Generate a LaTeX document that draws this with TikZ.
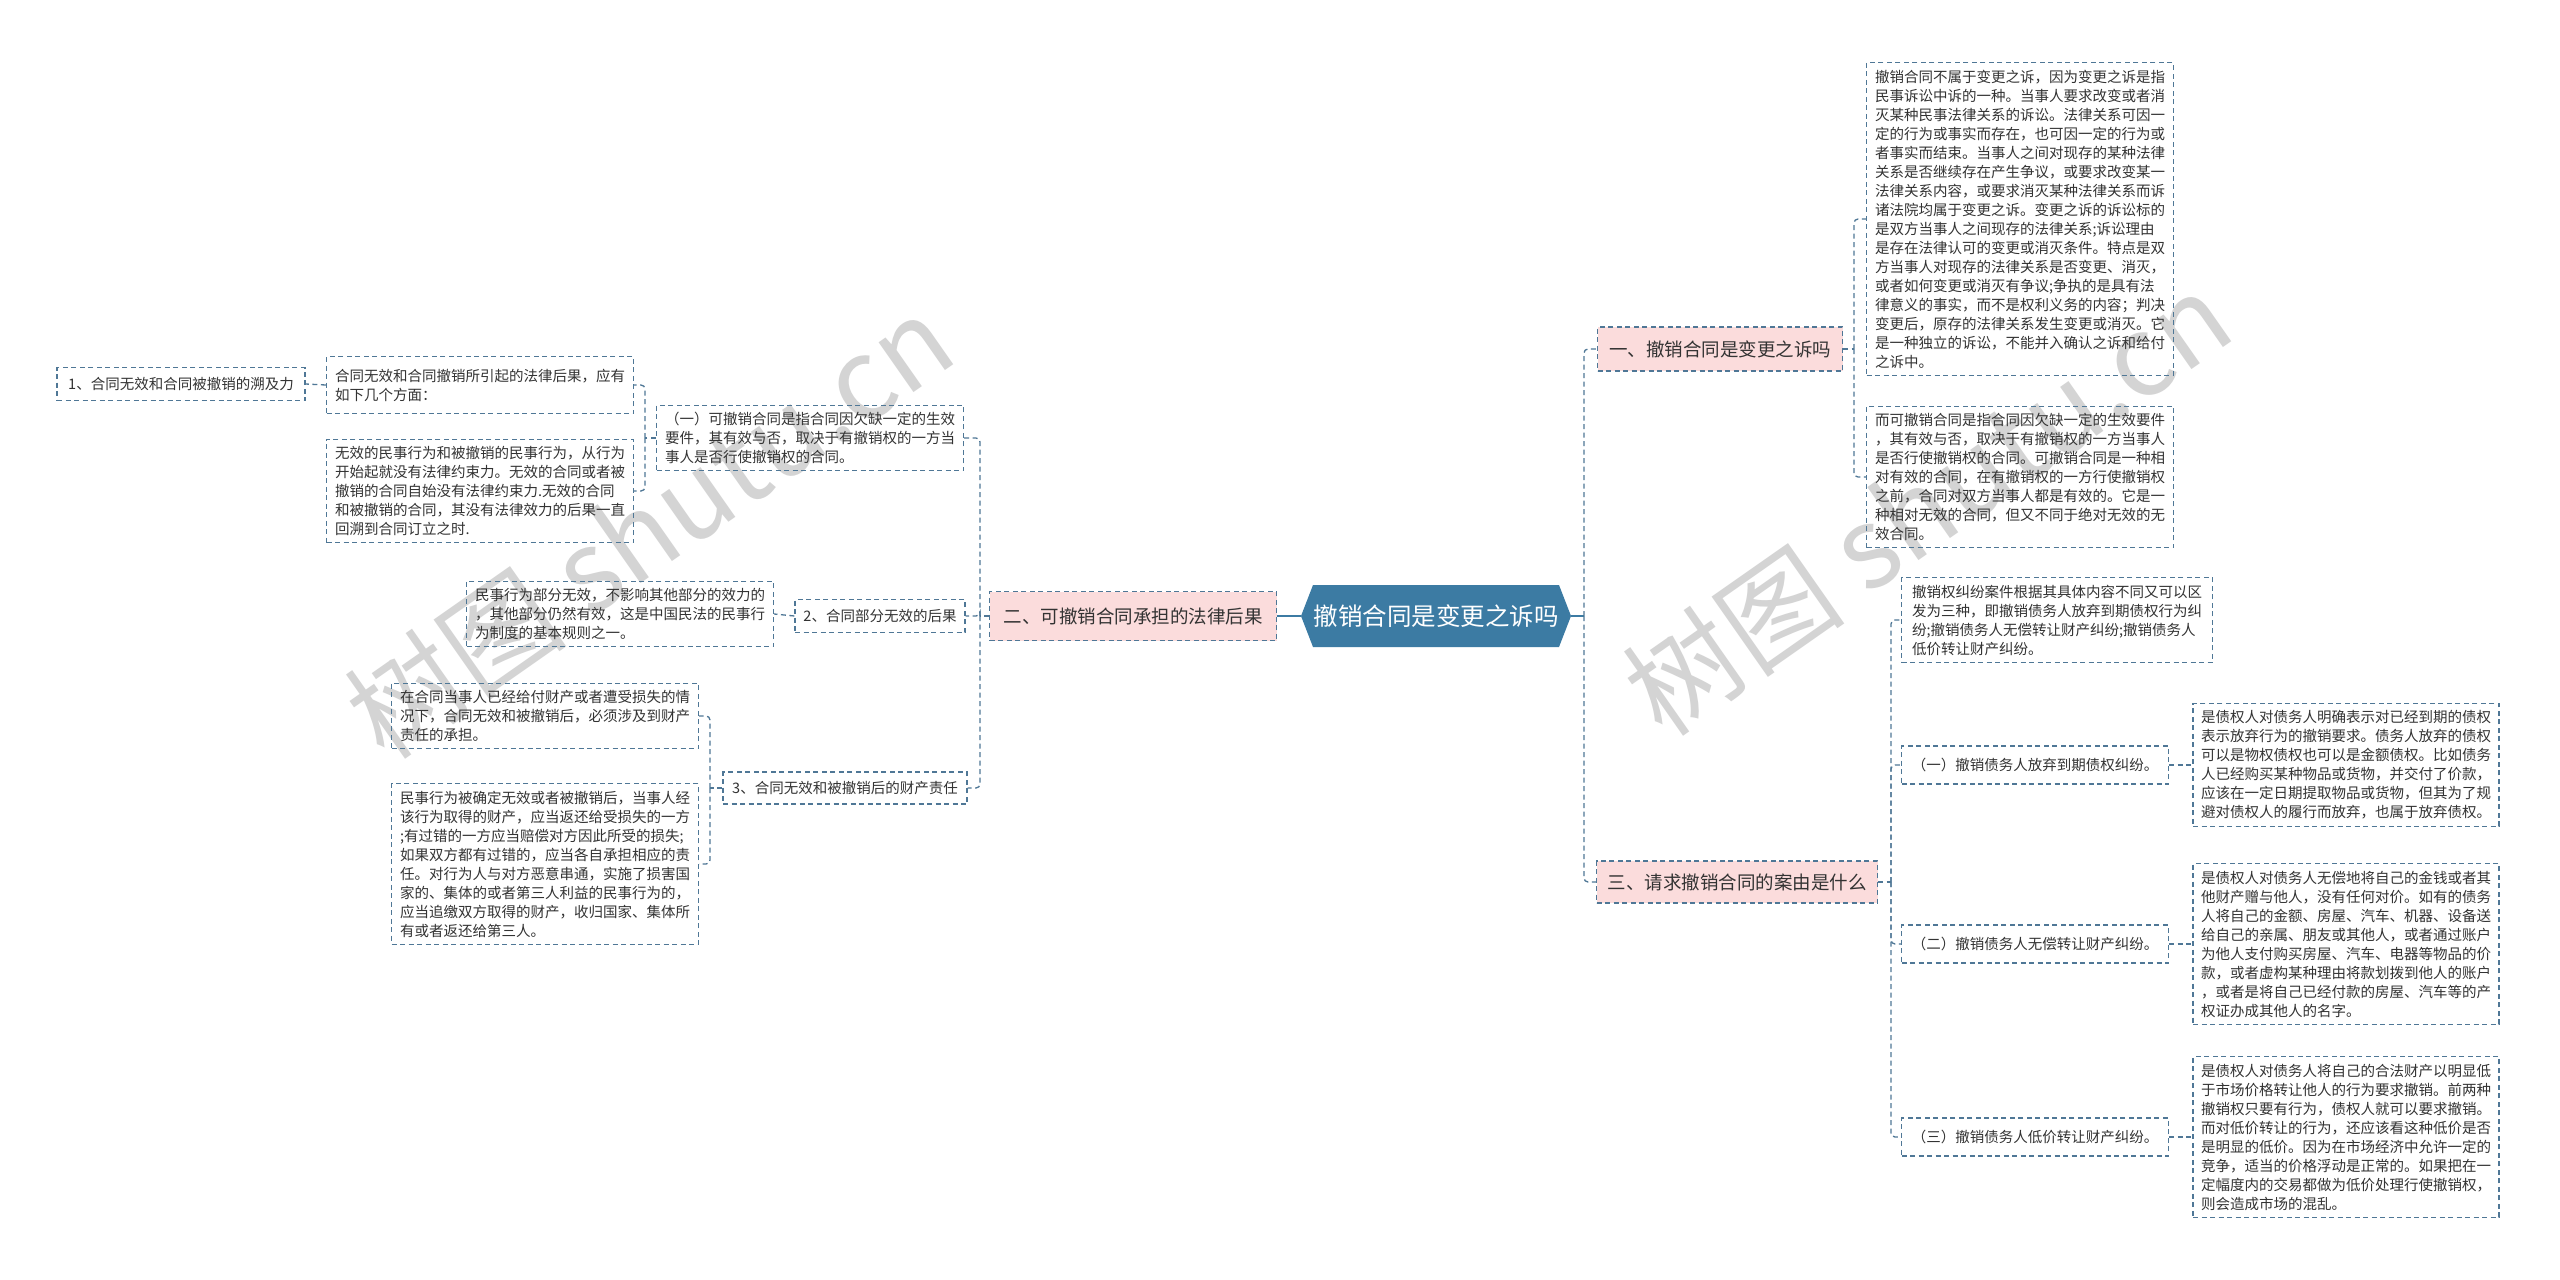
\documentclass[tikz,border=0pt]{standalone}
\usepackage{fontspec}
\setmainfont{Noto Sans CJK SC}
\definecolor{lineC}{HTML}{4F7796}
\definecolor{rootC}{HTML}{3C7BA3}
\definecolor{pinkC}{HTML}{FBDCDC}
\definecolor{txtC}{HTML}{333333}
\definecolor{wmC}{HTML}{D4D4D4}
\begin{document}
\begin{tikzpicture}[x=1pt,y=-1pt,
  leaf/.style={draw=lineC, line width=1.2pt, dash pattern=on 5pt off 3.5pt, text=txtC,
    font=\fontsize{14.5pt}{19pt}\selectfont, align=left, inner xsep=8pt, inner ysep=7pt},
  branch/.style={leaf, fill=pinkC, font=\fontsize{18.5pt}{22pt}\selectfont, inner xsep=11pt},
  roottext/.style={text=white, font=\fontsize{24.5pt}{28pt}\selectfont, inner sep=0pt,
    minimum width=270pt, minimum height=62pt},
  conn/.style={draw=lineC, line width=1.3pt, dash pattern=on 5pt off 3.5pt, rounded corners=4pt},
  rootlink/.style={draw=rootC, line width=2.2pt},
  wm/.style={text=wmC, font=\fontsize{112pt}{120pt}\selectfont, inner sep=0pt}]
\fill[white] (0,0) rectangle (2560,1280);
\useasboundingbox (0,0) rectangle (2560,1280);

% watermarks
\node[wm, rotate=35] (wm1) at (649,526) {树图 shutu.cn};
\node[wm, rotate=35] (wm2) at (1927,503) {树图 shutu.cn};

% root
\coordinate (rootc) at (1436,616);
\fill[rootC] (rootc) ++(-123,-31) -- ++(246,0) -- ++(12,31) -- ++(-12,31) -- ++(-246,0) -- ++(-12,-31) -- cycle;
\node[roottext] (root) at (rootc) {撤销合同是变更之诉吗};

% left side nodes
\node[branch, minimum width=287pt, minimum height=49pt] (ER) at (1133,616) {二、可撤销合同承担的法律后果};
\node[leaf, minimum width=307pt] (A) at (810,438) {（一）可撤销合同是指合同因欠缺一定的生效\\要件，其有效与否，取决于有撤销权的一方当\\事人是否行使撤销权的合同。};
\node[leaf, minimum width=307pt, minimum height=57pt] (a1) at (480,385) {合同无效和合同撤销所引起的法律后果，应有\\如下几个方面：};
\node[leaf, minimum width=307pt] (a2) at (480,491) {无效的民事行为和被撤销的民事行为，从行为\\开始起就没有法律约束力。无效的合同或者被\\撤销的合同自始没有法律约束力.无效的合同\\和被撤销的合同，其没有法律效力的后果一直\\回溯到合同订立之时.};
\node[leaf, minimum width=248pt, minimum height=33pt] (n1) at (181,384) {1、合同无效和合同被撤销的溯及力};
\node[leaf, minimum width=170pt, minimum height=33pt] (B) at (880,616) {2、合同部分无效的后果};
\node[leaf, minimum width=307pt] (b1) at (620,614) {民事行为部分无效，不影响其他部分的效力的\\，其他部分仍然有效，这是中国民法的民事行\\为制度的基本规则之一。};
\node[leaf, minimum width=244pt, minimum height=32pt] (C) at (845,788) {3、合同无效和被撤销后的财产责任};
\node[leaf, minimum width=307pt] (c1) at (545,716) {在合同当事人已经给付财产或者遭受损失的情\\况下，合同无效和被撤销后，必须涉及到财产\\责任的承担。};
\node[leaf, minimum width=307pt] (c2) at (545,864) {民事行为被确定无效或者被撤销后，当事人经\\该行为取得的财产，应当返还给受损失的一方\\;有过错的一方应当赔偿对方因此所受的损失;\\如果双方都有过错的，应当各自承担相应的责\\任。对行为人与对方恶意串通，实施了损害国\\家的、集体的或者第三人利益的民事行为的，\\应当追缴双方取得的财产，收归国家、集体所\\有或者返还给第三人。};

% right side nodes
\node[branch, minimum width=245pt, minimum height=44pt] (R1) at (1720,349) {一、撤销合同是变更之诉吗};
\node[leaf, minimum width=307pt] (t1) at (2020,219) {撤销合同不属于变更之诉，因为变更之诉是指\\民事诉讼中诉的一种。当事人要求改变或者消\\灭某种民事法律关系的诉讼。法律关系可因一\\定的行为或事实而存在，也可因一定的行为或\\者事实而结束。当事人之间对现存的某种法律\\关系是否继续存在产生争议，或要求改变某一\\法律关系内容，或要求消灭某种法律关系而诉\\诸法院均属于变更之诉。变更之诉的诉讼标的\\是双方当事人之间现存的法律关系;诉讼理由\\是存在法律认可的变更或消灭条件。特点是双\\方当事人对现存的法律关系是否变更、消灭，\\或者如何变更或消灭有争议;争执的是具有法\\律意义的事实，而不是权利义务的内容；判决\\变更后，原存的法律关系发生变更或消灭。它\\是一种独立的诉讼，不能并入确认之诉和给付\\之诉中。};
\node[leaf, minimum width=307pt] (t2) at (2020,477) {而可撤销合同是指合同因欠缺一定的生效要件\\，其有效与否，取决于有撤销权的一方当事人\\是否行使撤销权的合同。可撤销合同是一种相\\对有效的合同，在有撤销权的一方行使撤销权\\之前，合同对双方当事人都是有效的。它是一\\种相对无效的合同，但又不同于绝对无效的无\\效合同。};
\node[branch, minimum width=281pt, minimum height=42pt] (R3) at (1737,882) {三、请求撤销合同的案由是什么};
\node[leaf, minimum width=311pt] (s0) at (2057,620) {撤销权纠纷案件根据其具体内容不同又可以区\\发为三种，即撤销债务人放弃到期债权行为纠\\纷;撤销债务人无偿转让财产纠纷;撤销债务人\\低价转让财产纠纷。};
\node[leaf, minimum width=267pt, minimum height=38pt] (s1) at (2035,765) {（一）撤销债务人放弃到期债权纠纷。};
\node[leaf, minimum width=267pt, minimum height=38pt] (s2) at (2035,944) {（二）撤销债务人无偿转让财产纠纷。};
\node[leaf, minimum width=267pt, minimum height=38pt] (s3) at (2035,1137) {（三）撤销债务人低价转让财产纠纷。};
\node[leaf, minimum width=306pt] (u1) at (2346,765) {是债权人对债务人明确表示对已经到期的债权\\表示放弃行为的撤销要求。债务人放弃的债权\\可以是物权债权也可以是金额债权。比如债务\\人已经购买某种物品或货物，并交付了价款，\\应该在一定日期提取物品或货物，但其为了规\\避对债权人的履行而放弃，也属于放弃债权。};
\node[leaf, minimum width=306pt] (u2) at (2346,944) {是债权人对债务人无偿地将自己的金钱或者其\\他财产赠与他人，没有任何对价。如有的债务\\人将自己的金额、房屋、汽车、机器、设备送\\给自己的亲属、朋友或其他人，或者通过账户\\为他人支付购买房屋、汽车、电器等物品的价\\款，或者虚构某种理由将款划拨到他人的账户\\，或者是将自己已经付款的房屋、汽车等的产\\权证办成其他人的名字。};
\node[leaf, minimum width=306pt] (u3) at (2346,1137) {是债权人对债务人将自己的合法财产以明显低\\于市场价格转让他人的行为要求撤销。前两种\\撤销权只要有行为，债权人就可以要求撤销。\\而对低价转让的行为，还应该看这种低价是否\\是明显的低价。因为在市场经济中允许一定的\\竞争，适当的价格浮动是正常的。如果把在一\\定幅度内的交易都做为低价处理行使撤销权，\\则会造成市场的混乱。};

% junctions
\coordinate (jA) at (645,438);
\coordinate (jER) at (980,616);
\coordinate (jC) at (710,788);
\coordinate (jR) at (1584,616);
\coordinate (jR1) at (1854,349);
\coordinate (jR3) at (1891,882);

% connectors
\draw[rootlink] (root.west) -- (ER.east);
\draw[rootlink] (root.east) -- (jR);
\draw[conn] (jR) |- (R1.west);
\draw[conn] (jR) |- (R3.west);

\draw[conn] (ER.west) -- (jER);
\draw[conn] (jER) |- (A.east);
\draw[conn] (jER) |- (B.east);
\draw[conn] (jER) |- (C.east);
\draw[conn] (A.west) -- (jA);
\draw[conn] (jA) |- (a1.east);
\draw[conn] (jA) |- (a2.east);
\draw[conn] (a1.west) -- (n1.east);
\draw[conn] (B.west) -- (b1.east);
\draw[conn] (C.west) -- (jC);
\draw[conn] (jC) |- (c1.east);
\draw[conn] (jC) |- (c2.east);

\draw[conn] (R1.east) -- (jR1);
\draw[conn] (jR1) |- (t1.west);
\draw[conn] (jR1) |- (t2.west);
\draw[conn] (R3.east) -- (jR3);
\draw[conn] (jR3) |- (s0.west);
\draw[conn] (jR3) |- (s1.west);
\draw[conn] (jR3) |- (s2.west);
\draw[conn] (jR3) |- (s3.west);
\draw[conn] (s1.east) -- (u1.west);
\draw[conn] (s2.east) -- (u2.west);
\draw[conn] (s3.east) -- (u3.west);
\end{tikzpicture}
\end{document}
